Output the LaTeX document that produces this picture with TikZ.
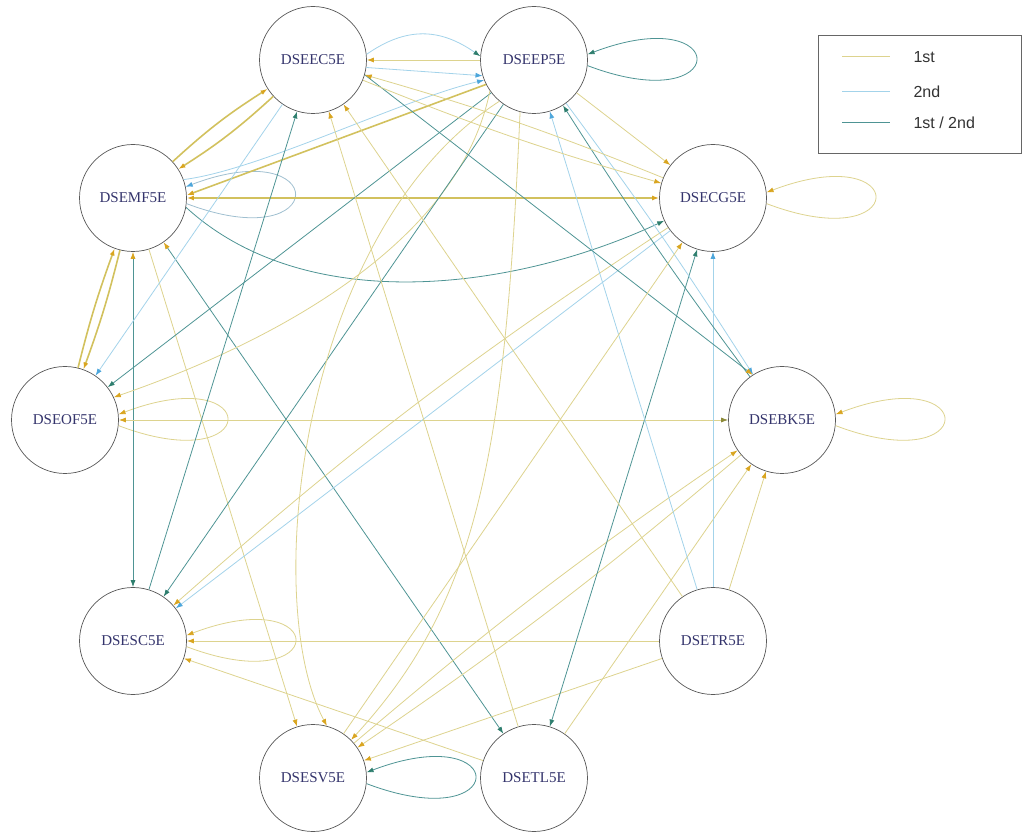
\documentclass[tikz,border=0pt]{standalone}
\usepackage{fontspec}
\setmainfont{Liberation Serif}
\newfontfamily\legfont{Liberation Sans}
\usetikzlibrary{arrows.meta}
\definecolor{cA}{HTML}{DDD38E}
\definecolor{cAt}{HTML}{D2C15E}
\definecolor{aA}{HTML}{D9A520}
\definecolor{aO}{HTML}{8C8A3A}
\definecolor{cB}{HTML}{A3D3EA}
\definecolor{cBg}{HTML}{9FBFD0}
\definecolor{aB}{HTML}{4DA6DB}
\definecolor{cT}{HTML}{4E9494}
\definecolor{aT}{HTML}{2E7E6E}
\definecolor{navy}{HTML}{34346C}
\tikzset{
  tipY/.tip={Latex[length=7pt,width=5pt,color=aA]},
  tipO/.tip={Latex[length=7pt,width=5pt,color=aO]},
  tipB/.tip={Latex[length=7pt,width=5pt,color=aB]},
  tipT/.tip={Latex[length=7pt,width=5pt,color=aT]},
  nd/.style={circle, draw=black!65, line width=0.7pt, fill=white, minimum size=107pt, inner sep=0pt, text=navy, font=\fontsize{15}{18}\selectfont},
  eY/.style={draw=cA, line width=0.8pt, -{tipY}},
  eYt/.style={draw=cAt, line width=1.6pt, -{tipY}},
  eB/.style={draw=cB, line width=0.8pt, -{tipB}},
  eT/.style={draw=cT, line width=0.8pt, -{tipT}},
  legline/.style={line width=1pt},
  legtext/.style={anchor=west, font=\legfont\fontsize{16}{18}\selectfont, text=black!80}
}
\begin{document}
\begin{tikzpicture}[x=1pt,y=1pt]
\useasboundingbox (0,0) rectangle (1024,835);
% nodes
\node[nd] (nEC) at (313,775) {DSEEC5E};
\node[nd] (nEP) at (534,775) {DSEEP5E};
\node[nd] (nMF) at (133,637) {DSEMF5E};
\node[nd] (nCG) at (713,637) {DSECG5E};
\node[nd] (nOF) at (65,415) {DSEOF5E};
\node[nd] (nBK) at (782,415) {DSEBK5E};
\node[nd] (nSC) at (133,194) {DSESC5E};
\node[nd] (nTR) at (713,194) {DSETR5E};
\node[nd] (nSV) at (313,57) {DSESV5E};
\node[nd] (nTL) at (534,57) {DSETL5E};
% self loops
\draw[eT] (nEP.-6) .. controls +(145,-55) and +(145,55) .. (nEP.6);
\draw[eY] (nCG.-6) .. controls +(145,-55) and +(145,55) .. (nCG.6);
\draw[eY] (nBK.-6) .. controls +(145,-55) and +(145,55) .. (nBK.6);
\draw[eY] (nOF.-6) .. controls +(145,-55) and +(145,55) .. (nOF.6);
\draw[eY] (nSC.-6) .. controls +(145,-55) and +(145,55) .. (nSC.6);
\draw[eT] (nSV.-6) .. controls +(145,-55) and +(145,55) .. (nSV.6);
\draw[eB, draw=cBg] (nMF.-6) .. controls +(145,-55) and +(145,55) .. (nMF.12);
% EC - EP
\draw[eY] (nEP) -- (nEC);
\draw[eB, -{tipT}] (nEC.6) .. controls +(40,28) and +(-40,28) .. (nEP.176);
\draw[eB] (nEC.-8) -- (nEP.-163);
% MF - CG
\draw[eYt, {tipY}-{tipY}] (nMF) -- (nCG);
\draw[eT] (nMF.-10) .. controls +(120,-110) and +(-150,-70) .. (nCG.-155);
% EC - MF
\draw[eYt] (nMF) to[bend left=5] (nEC);
\draw[eYt] (nEC) to[bend left=5] (nMF);
% EP - MF
\draw[eYt] (nEP.-153) -- (nMF.3);
\draw[eB] (nMF.20) .. controls (260,665) and (400,735) .. (nEP.-158);
% MF - OF
\draw[eYt] (nMF) to[bend left=3] (nOF);
\draw[eYt] (nOF) to[bend left=3] (nMF);
% MF - SC, SV, TL
\draw[eT, {tipY}-{tipT}] (nMF) -- (nSC);
\draw[eY] (nMF) -- (nSV);
\draw[eT, {tipY}-{tipT}] (nMF) -- (nTL);
% OF - BK
\draw[eY, {tipY}-{tipO}] (nOF) -- (nBK);
% into OF
\draw[eT] (nEP) -- (nOF);
\draw[eB] (nEC) -- (nOF);
\draw[eY] (nEP.-145) .. controls (460,595) and (280,495) .. (nOF.25);
% into SC
\draw[eY] (nTR) -- (nSC);
\draw[eY] (nTL) -- (nSC);
\draw[eT] (nEP) -- (nSC);
\draw[eT] (nSC) -- (nEC);
\draw[eB] (nCG) -- (nSC);
\draw[eY] (nCG) to[bend right=4] (nSC);
% into SV
\draw[eY] (nEP.-130) .. controls (300,605) and (260,235) .. (nSV.75);
\draw[eY] (nEP.-105) .. controls (505,385) and (480,235) .. (nSV.45);
\draw[eY] (nTR) -- (nSV);
\draw[eY] (nBK) to[bend left=3] (nSV);
% into BK
\draw[eY] (nSV) to[bend left=3] (nBK);
\draw[eY] (nTL) -- (nBK);
\draw[eY] (nTR) -- (nBK);
% CG - TL
\draw[eT, {tipT}-{tipT}] (nCG) -- (nTL);
% into EC from below
\draw[eY] (nTL) -- (nEC);
\draw[eY] (nTR) -- (nEC);
% TR up
\draw[eB] (nTR) -- (nCG);
\draw[eB] (nTR) -- (nEP);
% EP - BK
\draw[eB] (nEP) to[bend left=2] (nBK);
\draw[eT] (nBK) to[bend left=2] (nEP);
% EC - BK
\draw[eT, -{tipY}] (nEC.-16) -- (nBK.123);
% EP - CG
\draw[eY] (nEP) -- (nCG);
% CG - EC
\draw[eY] (nCG) to[bend right=3] (nEC);
\draw[eY] (nEC) to[bend right=3] (nCG);
% SV - CG
\draw[eY] (nSV) -- (nCG);
% legend
\draw[black!60, line width=0.8pt] (818,800) rectangle (1021,682);
\draw[legline, draw=cA] (842,778) -- (890,778);
\draw[legline, draw=cB] (842,743) -- (890,743);
\draw[legline, draw=cT] (842,712) -- (890,712);
\node[legtext] (l1) at (910,778) {1st};
\node[legtext] (l2) at (910,743) {2nd};
\node[legtext] (l3) at (910,712) {1st / 2nd};
\end{tikzpicture}
\end{document}
